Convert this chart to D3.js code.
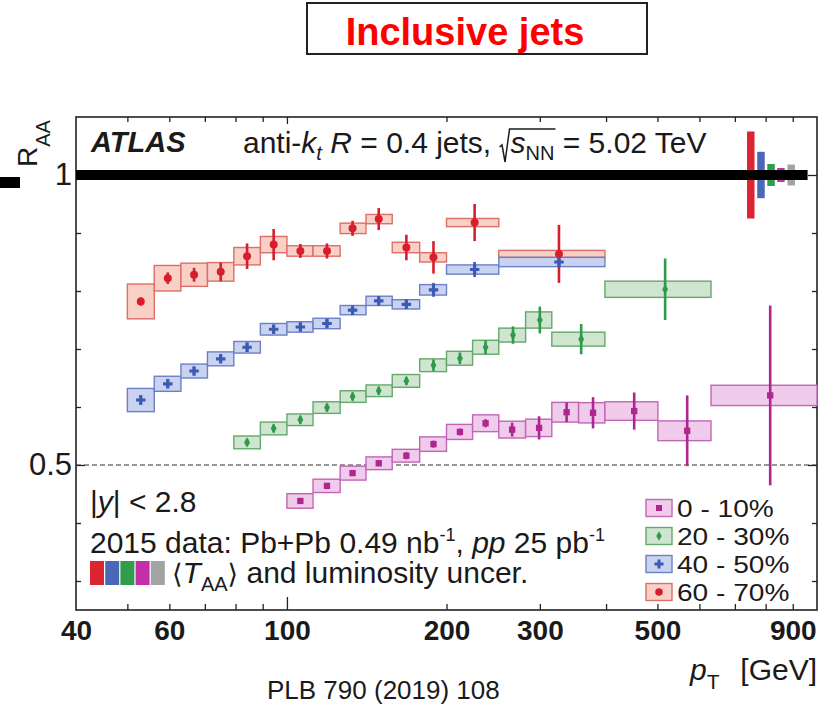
<!DOCTYPE html>
<html>
<head>
<meta charset="utf-8">
<script src="https://cdn.jsdelivr.net/npm/d3@7"></script>
<style>
  body { margin: 0; background: #fff; }
  svg { display: block; }
  text { font-family: "Liberation Sans", Arial, Helvetica, sans-serif; white-space: pre; fill: #1a1a1a; }
</style>
</head>
<body>
<svg id="chart" width="820" height="707"></svg>
<script>
// ---- Axis ranges and ticks ----
const xDomain = [40, 1000];
const yDomain = [0.25, 1.1];
const xTicks = [40, 50, 60, 70, 80, 90, 100, 200, 300, 400, 500, 600, 700, 800, 900];
const xTickLabels = [40, 60, 100, 200, 300, 500, 900];
const yTicks = [0.3, 0.4, 0.5, 0.6, 0.7, 0.8, 0.9, 1.0];
const yTickLabels = [0.5, 1.0];

// ---- 0-10% centrality ----
const lo010   = [100, 112, 126, 141, 158, 178, 200, 224, 251, 282, 316, 355, 398, 501, 631];
const hi010   = [112, 126, 141, 158, 178, 200, 224, 251, 282, 316, 355, 398, 501, 631, 1000];
const pt010   = [106, 119, 133, 149, 168, 189, 212, 237, 266, 299, 337, 378, 452, 569, 816];
const raa010  = [0.438, 0.464, 0.486, 0.503, 0.516, 0.536, 0.557, 0.572, 0.561, 0.564, 0.591, 0.590, 0.593, 0.559, 0.620];
const stat010 = [0.005, 0.005, 0.005, 0.005, 0.006, 0.006, 0.006, 0.007, 0.012, 0.020, 0.017, 0.027, 0.032, 0.061, 0.155];
const sys010  = [0.0125, 0.0115, 0.012, 0.011, 0.011, 0.0125, 0.013, 0.0145, 0.0145, 0.015, 0.017, 0.0175, 0.016, 0.017, 0.0175];

// ---- 20-30% centrality ----
const lo2030   = [79.4, 89.1, 100, 112, 126, 141, 158, 178, 200, 224, 251, 282, 316, 398];
const hi2030   = [89.1, 100, 112, 126, 141, 158, 178, 200, 224, 251, 282, 316, 398, 631];
const pt2030   = [84.1, 94.4, 106, 119, 133, 149, 168, 189, 212, 237, 267, 300, 359, 517];
const raa2030  = [0.539, 0.563, 0.578, 0.599, 0.618, 0.628, 0.645, 0.672, 0.684, 0.703, 0.724, 0.750, 0.717, 0.803];
const stat2030 = [0.006, 0.007, 0.007, 0.007, 0.007, 0.007, 0.007, 0.010, 0.010, 0.012, 0.015, 0.023, 0.026, 0.053];
const sys2030  = [0.011, 0.011, 0.010, 0.010, 0.010, 0.010, 0.011, 0.011, 0.012, 0.012, 0.012, 0.014, 0.012, 0.014];

// ---- 40-50% centrality ----
const lo4050   = [50, 56.2, 63.1, 70.8, 79.4, 89.1, 100, 112, 126, 141, 158, 178, 200, 251];
const hi4050   = [56.2, 63.1, 70.8, 79.4, 89.1, 100, 112, 126, 141, 158, 178, 200, 251, 398];
const pt4050   = [53, 59.6, 66.8, 75, 84.1, 94.4, 106, 119, 133, 149, 168, 189, 226, 326];
const raa4050  = [0.612, 0.640, 0.662, 0.683, 0.703, 0.734, 0.738, 0.744, 0.767, 0.783, 0.777, 0.802, 0.837, 0.850];
const stat4050 = [0.008, 0.007, 0.007, 0.007, 0.008, 0.008, 0.007, 0.007, 0.007, 0.007, 0.007, 0.012, 0.013, 0.008];
const sys4050  = [0.020, 0.013, 0.012, 0.012, 0.010, 0.010, 0.009, 0.009, 0.008, 0.008, 0.008, 0.009, 0.008, 0.008];

// ---- 60-70% centrality ----
const lo6070   = [50, 56.2, 63.1, 70.8, 79.4, 89.1, 100, 112, 126, 141, 158, 178, 200, 251];
const hi6070   = [56.2, 63.1, 70.8, 79.4, 89.1, 100, 112, 126, 141, 158, 178, 200, 251, 398];
const pt6070   = [53, 59.6, 66.8, 75, 84.1, 94.4, 106, 119, 133, 149, 168, 189, 226, 326];
const raa6070  = [0.782, 0.822, 0.828, 0.833, 0.860, 0.880, 0.869, 0.869, 0.908, 0.924, 0.875, 0.858, 0.918, 0.864];
const stat6070 = [0.007, 0.010, 0.012, 0.016, 0.022, 0.027, 0.012, 0.013, 0.013, 0.019, 0.022, 0.028, 0.032, 0.050];
const sys6070  = [0.030, 0.022, 0.020, 0.016, 0.015, 0.014, 0.009, 0.009, 0.009, 0.008, 0.009, 0.008, 0.007, 0.006];

// ---- <T_AA> and luminosity uncertainties at R_AA = 1 ----
const normPt  = [750, 784, 819, 855, 894];
const normUnc = [0.075, 0.040, 0.019, 0.012, 0.018];
const normColors = ["#dc2433", "#4a67b8", "#2f9d4b", "#c22fa6", "#a3a3a3"];

const legendLabels = ["0 - 10%", "20 - 30%", "40 - 50%", "60 - 70%"];

// ---- series table built from the arrays above ----
const series = {
  c010:  { lo: lo010,  hi: hi010,  pt: pt010,  raa: raa010,  stat: stat010,  sys: sys010,
           fill: "#f1cbeb", edge: "#c066b5", mark: "#b0268f", sym: "square" },
  c2030: { lo: lo2030, hi: hi2030, pt: pt2030, raa: raa2030, stat: stat2030, sys: sys2030,
           fill: "#cfe5cf", edge: "#65a86c", mark: "#2e9a4a", sym: "diamond" },
  c4050: { lo: lo4050, hi: hi4050, pt: pt4050, raa: raa4050, stat: stat4050, sys: sys4050,
           fill: "#c9d3f0", edge: "#6b80c6", mark: "#3a5ab4", sym: "cross" },
  c6070: { lo: lo6070, hi: hi6070, pt: pt6070, raa: raa6070, stat: stat6070, sys: sys6070,
           fill: "#f9d0c6", edge: "#dc6f68", mark: "#d81e2c", sym: "circle" }
};
const drawOrder = ["c6070", "c4050", "c2030", "c010"];
const legendOrder = ["c010", "c2030", "c4050", "c6070"];

// ---- layout ----
const plot = { left: 76, right: 817, top: 117, bottom: 610 };
const svg = d3.select("#chart");
const x = d3.scaleLog().domain(xDomain).range([plot.left, plot.right]);
const y = d3.scaleLinear().domain(yDomain).range([plot.bottom, plot.top]);

// Text made of styled pieces (italic, sub/superscripts) placed side by side.
function rich(parent, segs, o) {
  const g = parent.append("g");
  let cx = 0;
  segs.forEach(s => {
    if (s.gap) { s.x0 = cx; cx += s.gap; s.x1 = cx; return; }
    const t = g.append("text")
      .attr("x", cx).attr("y", s.dy || 0)
      .attr("font-size", s.size || o.size)
      .attr("font-style", s.it ? "italic" : null)
      .attr("font-weight", s.bold || o.bold ? "bold" : null)
      .style("font-family", s.family || null)
      .style("fill", o.fill || null)
      .text(s.t);
    s.x0 = cx;
    cx += t.node().getComputedTextLength();
    s.x1 = cx;
  });
  let ox = o.x;
  if (o.anchor === "end") ox -= cx;
  else if (o.anchor === "middle") ox -= cx / 2;
  g.attr("transform", o.rotate
    ? `translate(${o.x},${o.y}) rotate(${o.rotate}) translate(${ox - o.x},0)`
    : `translate(${ox},${o.y})`);
  return { g, width: cx, segs };
}

// ---- title box ----
svg.append("rect").attr("x", 307).attr("y", 3).attr("width", 340).attr("height", 51)
  .attr("fill", "#fff").attr("stroke", "#222").attr("stroke-width", 2);
svg.append("text").attr("x", 465).attr("y", 45).attr("text-anchor", "middle")
  .attr("font-size", 38).attr("font-weight", "bold").style("fill", "#ff0000")
  .text("Inclusive jets");

// ---- axes ----
const gx = svg.append("g").attr("transform", `translate(0,${plot.bottom})`)
  .call(d3.axisBottom(x).tickValues(xTicks).tickSize(-6).tickPadding(10)
    .tickFormat(d => xTickLabels.includes(d) ? d : ""));
gx.select(".domain").remove();
gx.selectAll(".tick line").attr("stroke", "#222").attr("stroke-width", 1.3)
  .attr("y2", d => d === 40 ? 0 : (d === 100 ? -13 : -6));
gx.selectAll(".tick text").attr("font-size", 28).attr("font-weight", "bold")
  .attr("font-family", null).style("fill", "#1a1a1a");

const gxTop = svg.append("g").attr("transform", `translate(0,${plot.top})`)
  .call(d3.axisTop(x).tickValues(xTicks.filter(d => d !== 40)).tickSize(-5).tickFormat(""));
gxTop.select(".domain").remove();
gxTop.selectAll(".tick line").attr("stroke", "#222").attr("stroke-width", 1.3)
  .attr("y2", d => d === 100 ? 7 : 5);

const gy = svg.append("g").attr("transform", `translate(${plot.left},0)`)
  .call(d3.axisLeft(y).tickValues(yTicks).tickSize(-5).tickPadding(4)
    .tickFormat(d => yTickLabels.includes(d) ? d3.format("~g")(d) : ""));
gy.select(".domain").remove();
gy.selectAll(".tick line").attr("stroke", "#222").attr("stroke-width", 1.3)
  .attr("x2", d => yTickLabels.includes(d) ? 9 : 5);
gy.selectAll(".tick text").attr("font-size", 31).attr("font-family", null).style("fill", "#1a1a1a");

const gyR = svg.append("g").attr("transform", `translate(${plot.right},0)`)
  .call(d3.axisRight(y).tickValues(yTicks).tickSize(-5).tickFormat(""));
gyR.select(".domain").remove();
gyR.selectAll(".tick line").attr("stroke", "#222").attr("stroke-width", 1.3)
  .attr("x2", d => yTickLabels.includes(d) ? -9 : -5);

// frame
svg.append("rect").attr("x", plot.left).attr("y", plot.top)
  .attr("width", plot.right - plot.left).attr("height", plot.bottom - plot.top)
  .attr("fill", "none").attr("stroke", "#222").attr("stroke-width", 1.6);

// dashed reference at R_AA = 0.5
svg.append("line").attr("x1", plot.left).attr("x2", plot.right)
  .attr("y1", y(0.5)).attr("y2", y(0.5))
  .attr("stroke", "#333").attr("stroke-width", 1.2).attr("stroke-dasharray", "5,3");

// ---- normalisation uncertainty bars ----
const normW = 7.5;
svg.append("g").selectAll("rect").data(normPt).join("rect")
  .attr("x", d => x(d) - normW / 2).attr("width", normW)
  .attr("y", (d, i) => y(1 + normUnc[i]))
  .attr("height", (d, i) => y(1 - normUnc[i]) - y(1 + normUnc[i]))
  .attr("fill", (d, i) => normColors[i]);

// unity line
svg.append("line").attr("x1", plot.left).attr("x2", x(960))
  .attr("y1", y(1)).attr("y2", y(1))
  .attr("stroke", "#000").attr("stroke-width", 10);
svg.append("rect").attr("x", 0).attr("y", y(1) + 2).attr("width", 20).attr("height", 11).attr("fill", "#000");

// ---- systematic boxes ----
const gBoxes = svg.append("g");
drawOrder.forEach(k => {
  const s = series[k];
  gBoxes.append("g").selectAll("rect").data(s.raa).join("rect")
    .attr("x", (d, i) => x(s.lo[i]))
    .attr("width", (d, i) => x(s.hi[i]) - x(s.lo[i]))
    .attr("y", (d, i) => y(d + s.sys[i]))
    .attr("height", (d, i) => y(d - s.sys[i]) - y(d + s.sys[i]))
    .attr("fill", s.fill).attr("stroke", s.edge).attr("stroke-width", 1.4);
});

// ---- markers ----
function drawMarker(g, type, cx, cy, color, scale = 1) {
  if (type === "circle") {
    g.append("circle").attr("cx", cx).attr("cy", cy).attr("r", 4 * scale).attr("fill", color);
    return;
  }
  const sym = type === "square" ? d3.symbolSquare : type === "diamond" ? d3.symbolDiamond : d3.symbolCross;
  const size = type === "square" ? 40 : type === "diamond" ? 30 : 50;
  g.append("path").attr("d", d3.symbol().type(sym).size(size * scale * scale)())
    .attr("transform", `translate(${cx},${cy})`).attr("fill", color);
}

const gPts = svg.append("g");
drawOrder.forEach(k => {
  const s = series[k];
  const g = gPts.append("g");
  g.selectAll("line").data(s.raa).join("line")
    .attr("x1", (d, i) => x(s.pt[i])).attr("x2", (d, i) => x(s.pt[i]))
    .attr("y1", (d, i) => y(d + s.stat[i])).attr("y2", (d, i) => y(d - s.stat[i]))
    .attr("stroke", s.mark).attr("stroke-width", 2.6);
  s.raa.forEach((d, i) => drawMarker(g, s.sym, x(s.pt[i]), y(d), s.mark));
});

// ---- legend ----
const lg = svg.append("g");
const legRow = 28, legTop = 508;
legendOrder.forEach((k, i) => {
  const s = series[k];
  const cy = legTop + i * legRow;
  lg.append("rect").attr("x", 646).attr("y", cy - 8.5).attr("width", 26).attr("height", 17)
    .attr("fill", s.fill).attr("stroke", s.edge).attr("stroke-width", 1.4);
  drawMarker(lg, s.sym, 659, cy, s.mark, 0.95);
  // compact line height so the stacked labels keep clear of each other; widened to the wide face
  const t = lg.append("text").attr("x", 677).attr("y", cy + 9).attr("font-size", 24).text(legendLabels[i]);
  const w = t.node().getComputedTextLength();
  t.attr("textLength", w * 1.17).attr("lengthAdjust", "spacingAndGlyphs");
});

// ---- annotations ----
rich(svg, [{ t: "ATLAS", it: true, bold: true }], { x: 91, y: 152, size: 29 });

const hdr = rich(svg, [
  { t: "anti-" }, { t: "k", it: true }, { t: "t", it: true, size: 20, dy: 7 },
  { t: " " }, { t: "R", it: true }, { t: " = 0.4 jets, " },
  { gap: 11 }, { t: "s", it: true }, { t: "NN", size: 20, dy: 7 },
  { t: " = 5.02 TeV" }
], { x: 243, y: 153, size: 30 });
{
  const r0 = hdr.segs[6].x0, r1 = hdr.segs[8].x1 + 1;
  hdr.g.append("path")
    .attr("d", `M${r0},-6 L${r0 + 2.5},-8 L${r0 + 5.5},9 L${r0 + 10},-24 L${r1},-24`)
    .attr("fill", "none").attr("stroke", "#1a1a1a").attr("stroke-width", 1.5);
}

rich(svg, [{ t: "|" }, { t: "y", it: true }, { t: "| < 2.8" }], { x: 90, y: 512, size: 30 });

rich(svg, [
  { t: "2015 data: Pb+Pb 0.49 nb" }, { t: "-1", size: 18, dy: -12 },
  { t: ", " }, { t: "pp", it: true }, { t: " 25 pb" }, { t: "-1", size: 18, dy: -12 }
], { x: 90, y: 553, size: 30 });

// colour swatches for the normalisation uncertainties
svg.append("g").selectAll("rect").data(normColors).join("rect")
  .attr("x", (d, i) => 90 + i * 15.2).attr("width", 14).attr("y", 561).attr("height", 24)
  .attr("fill", d => d);

rich(svg, [
  { t: "\u27E8", family: "DejaVu Sans", size: 27 }, { t: "T", it: true },
  { t: "AA", size: 20, dy: 8 }, { t: "\u27E9", family: "DejaVu Sans", size: 27 },
  { t: " and luminosity uncer." }
], { x: 172, y: 583, size: 30 });

// axis titles
rich(svg, [{ t: "R", size: 28 }, { t: "AA", size: 20, dy: 13 }],
  { x: 37, y: 167, size: 28, rotate: -90 });
rich(svg, [{ t: "p", it: true }, { t: "T", size: 21, dy: 9 }], { x: 690, y: 680, size: 30 });
rich(svg, [{ t: "[GeV]" }], { x: 817, y: 680, size: 30, anchor: "end" });

svg.append("text").attr("x", 267).attr("y", 699).attr("font-size", 26).text("PLB 790 (2019) 108");
</script>
</body>
</html>
